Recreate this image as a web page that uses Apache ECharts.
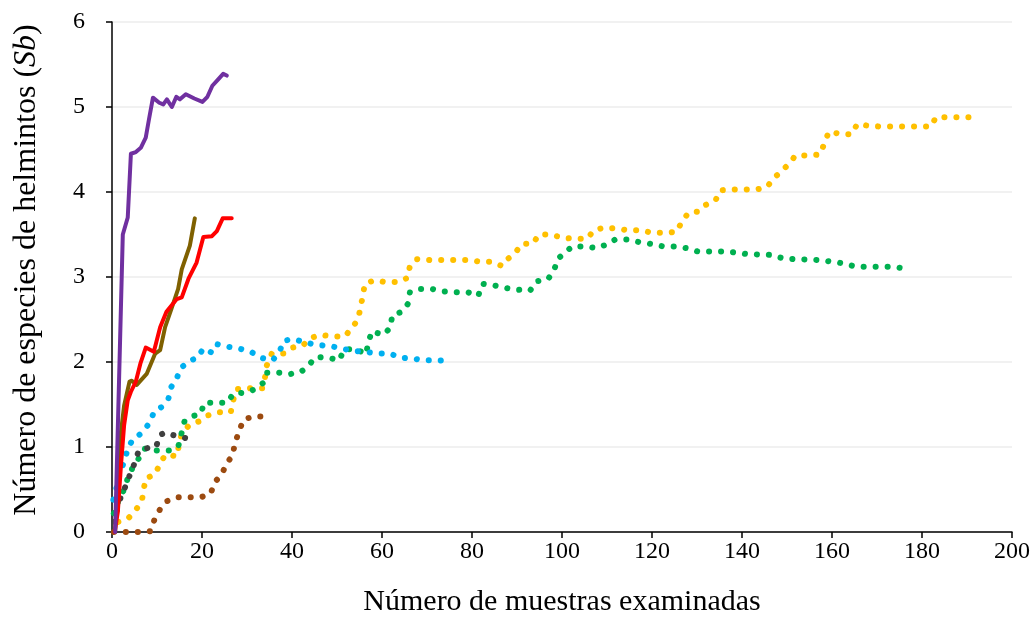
<!DOCTYPE html>
<html>
<head>
<meta charset="utf-8">
<script src="https://cdn.jsdelivr.net/npm/echarts@6/dist/echarts.min.js"></script>
<style>
  html, body { margin: 0; padding: 0; background: #fff; }
  #chart { width: 1034px; height: 622px; }
</style>
</head>
<body>
<div id="chart"></div>
<script>
// Species accumulation curves: helminth species (Sb) vs. number of samples examined
const xTicks = [0, 20, 40, 60, 80, 100, 120, 140, 160, 180, 200];
const yTicks = [0, 1, 2, 3, 4, 5, 6];

// solid curves [samples, species]
const purpleCurve = [[0.7,0],[2.4,3.5],[3.5,3.7],[4.2,4.45],[5.3,4.47],[6.4,4.52],[7.5,4.64],[8.2,4.85],[9.1,5.11],[10.5,5.05],[11.4,5.03],[12.2,5.09],[13.3,5.0],[14.3,5.12],[15.1,5.09],[16.4,5.15],[18.3,5.1],[20.1,5.06],[21.2,5.12],[22.3,5.25],[23.5,5.32],[24.7,5.39],[25.5,5.37]];
const oliveCurve = [[0.7,0],[1.3,0.7],[2,1.18],[2.7,1.49],[3.9,1.77],[4.4,1.78],[5.5,1.73],[7.7,1.86],[9.6,2.10],[10.7,2.14],[11.8,2.41],[13.3,2.64],[14.7,2.86],[15.5,3.09],[17.3,3.37],[18.4,3.69]];
const redCurve = [[0.6,0],[1.3,0.24],[2,0.79],[2.7,1.26],[3.5,1.55],[4.2,1.65],[5.3,1.77],[6.3,1.98],[7.5,2.17],[9.3,2.12],[10.7,2.41],[12.1,2.59],[14.4,2.74],[15.5,2.76],[17,2.98],[18.8,3.17],[20.3,3.47],[22.2,3.48],[23.3,3.54],[24.6,3.69],[26.6,3.69]];

// dotted curves [samples, species]
const blueCurve = [[0.3,0.38],[1.2,0.56],[1.8,0.71],[2.9,0.85],[3.5,0.99],[4.8,1.10],[6.8,1.17],[8.4,1.29],[9.4,1.42],[11,1.47],[12.5,1.56],[13.1,1.70],[14.4,1.81],[15.3,1.93],[17.1,2.01],[19,2.05],[20.3,2.16],[22.2,2.11],[23.3,2.21],[25.6,2.18],[28.2,2.16],[30.9,2.12],[33,2.05],[35.7,2.02],[37.2,2.12],[38.2,2.25],[40.3,2.27],[42.9,2.23],[45.5,2.20],[48.3,2.19],[50.9,2.16],[53.6,2.13],[56.2,2.12],[58.9,2.10],[61.7,2.10],[64.1,2.05],[66.8,2.04],[69.6,2.02],[72.3,2.02],[75,2.01]];
const grayCurve = [[0.6,0.12],[1.2,0.28],[2,0.42],[3.1,0.55],[4.1,0.69],[5.1,0.82],[5.9,0.95],[7.1,0.98],[9.3,1.0],[9.8,1.0],[10.6,1.14],[11.8,1.17],[14.2,1.13],[16.7,1.10]];
const greenCurve = [[0.4,0.22],[1.4,0.36],[2.5,0.48],[3.5,0.63],[4.6,0.76],[6,0.87],[7.3,0.98],[9.9,0.96],[12.7,0.96],[14.7,1.0],[16.1,1.30],[17.7,1.36],[19.7,1.39],[20.5,1.52],[25.6,1.52],[27,1.63],[29.7,1.64],[31.8,1.68],[33.5,1.75],[34.4,1.875],[37.1,1.875],[39.8,1.86],[41.9,1.88],[43.7,1.96],[45.3,2.06],[48.1,2.05],[50.5,2.02],[51.6,2.15],[54.4,2.15],[56.4,2.09],[57,2.23],[57.7,2.36],[60.3,2.32],[61.8,2.40],[62.3,2.55],[64.4,2.59],[65.7,2.68],[66.2,2.82],[68.2,2.86],[71,2.86],[73.7,2.83],[76.4,2.82],[79.1,2.82],[81.4,2.78],[82.3,2.92],[85,2.90],[87.6,2.87],[90.2,2.85],[92.9,2.84],[94.4,2.95],[96.8,2.97],[98.2,3.07],[99,3.21],[100.7,3.29],[102.3,3.36],[105,3.36],[107.7,3.34],[109.8,3.38],[111.8,3.44],[114.5,3.44],[117.2,3.41],[119.8,3.39],[122.4,3.36],[125.1,3.36],[127.7,3.34],[130.2,3.30],[135.6,3.30],[138.4,3.29],[141,3.27],[146.6,3.26],[149.1,3.22],[151.8,3.21],[157.3,3.20],[160,3.18],[162.6,3.16],[165.3,3.12],[173.6,3.12],[176.2,3.10]];
const goldCurve = [[1.4,0.12],[3.6,0.16],[5.1,0.25],[6.6,0.35],[7,0.49],[7.5,0.63],[9.6,0.68],[10.7,0.81],[11.9,0.91],[14.4,0.89],[14.9,1.03],[15.5,1.16],[17.2,1.26],[19.3,1.30],[21.2,1.37],[23.6,1.41],[26.4,1.41],[27,1.56],[27.7,1.68],[30.7,1.69],[33.4,1.69],[34,1.82],[34.4,1.96],[35.5,2.10],[38.3,2.10],[40.1,2.17],[42.3,2.19],[44.1,2.28],[46.2,2.32],[49,2.30],[51.8,2.30],[53.2,2.40],[54.6,2.49],[55.2,2.63],[55.7,2.77],[56.2,2.92],[58.2,2.96],[60.9,2.94],[63.6,2.94],[65.7,2.99],[66.2,3.13],[67.8,3.21],[70.6,3.20],[73.3,3.20],[79.3,3.20],[81.8,3.18],[84.3,3.18],[86.7,3.13],[87.9,3.21],[89.7,3.29],[91.1,3.39],[93.5,3.39],[94.9,3.50],[97.6,3.50],[100.1,3.46],[102.8,3.45],[105.6,3.45],[107.1,3.55],[109.3,3.58],[112,3.57],[114.7,3.55],[117.5,3.55],[120.1,3.52],[122.7,3.52],[125.5,3.53],[126.7,3.66],[128.2,3.76],[130.4,3.77],[132,3.85],[134.1,3.90],[135.2,4.02],[137.8,4.03],[143.3,4.03],[145.6,4.06],[147,4.16],[148.7,4.24],[150.4,4.33],[151.9,4.43],[154.7,4.43],[157.3,4.44],[158.3,4.57],[159.3,4.71],[162,4.68],[164.4,4.68],[165.6,4.80],[168,4.78],[170.8,4.77],[182,4.77],[183.1,4.88],[191.5,4.88]];
const brownCurve = [[0.4,0],[3.3,0],[6,0],[8.6,0.01],[9.4,0.14],[10.7,0.27],[12.1,0.36],[14.4,0.41],[19.8,0.41],[21.9,0.45],[22.9,0.59],[24.4,0.68],[25.5,0.81],[26.8,0.90],[27.3,1.04],[28.2,1.18],[29.2,1.32],[31.4,1.36],[34.1,1.36]];

const FONT = '"Liberation Serif", "Times New Roman", serif';

function solid(name, data, color) {
  return {
    name, type: 'line', data, showSymbol: false, symbol: 'none', smooth: false,
    lineStyle: { color, width: 4, join: 'round', cap: 'round' },
    emphasis: { disabled: true }, z: 3
  };
}
function dotted(name, data, color) {
  return {
    name, type: 'line', data, showSymbol: false, symbol: 'none', smooth: false,
    lineStyle: { color, width: 6, type: [0.1, 11.9], cap: 'round', join: 'round' },
    emphasis: { disabled: true }, z: 2
  };
}

const chart = echarts.init(document.getElementById('chart'), null, { renderer: 'canvas' });
chart.setOption({
  animation: false,
  backgroundColor: '#ffffff',
  grid: { left: 112, top: 22, width: 900, height: 512, containLabel: false },
  xAxis: {
    type: 'value', min: xTicks[0], max: xTicks[xTicks.length - 1], interval: 20,
    name: 'Número de muestras examinadas', nameLocation: 'middle', nameGap: 55,
    nameTextStyle: { fontFamily: FONT, fontSize: 30, color: '#000' },
    axisLine: { show: true, lineStyle: { color: '#000', width: 1.5 } },
    axisTick: { show: true, length: 6, lineStyle: { color: '#000', width: 1.5 } },
    axisLabel: { fontFamily: FONT, fontSize: 24, color: '#000', margin: 8 },
    splitLine: { show: false }
  },
  yAxis: {
    type: 'value', min: yTicks[0], max: yTicks[yTicks.length - 1], interval: 1,
    name: 'Número de especies de helmintos ({i|Sb})', nameLocation: 'middle', nameGap: 69,
    nameRotate: 90,
    nameTextStyle: {
      fontFamily: FONT, fontSize: 32, color: '#000', padding: [0, 0, 0, 14],
      rich: { i: { fontFamily: FONT, fontSize: 32, fontStyle: 'italic', color: '#000' } }
    },
    axisLine: { show: true, lineStyle: { color: '#000', width: 1.5 } },
    axisTick: { show: true, length: 6, lineStyle: { color: '#000', width: 1.5 } },
    axisLabel: { fontFamily: FONT, fontSize: 24, color: '#000', margin: 27 },
    splitLine: { show: true, lineStyle: { color: '#ececec', width: 1.5 } }
  },
  series: [
    dotted('gold', goldCurve, '#FFC000'),
    dotted('green', greenCurve, '#00B050'),
    dotted('blue', blueCurve, '#00B0F0'),
    dotted('brown', brownCurve, '#9C4A10'),
    dotted('gray', grayCurve, '#404040'),
    solid('olive', oliveCurve, '#7F6000'),
    solid('red', redCurve, '#FF0000'),
    solid('purple', purpleCurve, '#7030A0')
  ]
});
</script>
</body>
</html>
